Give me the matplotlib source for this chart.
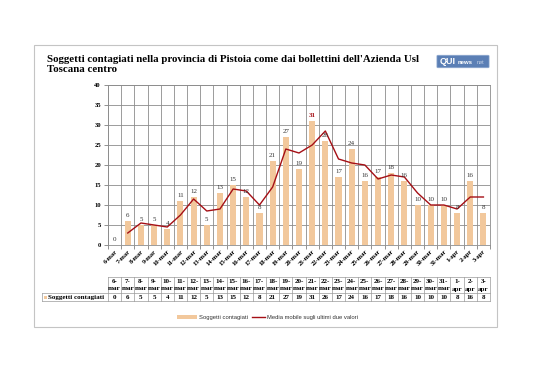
import matplotlib
matplotlib.use("Agg")
import matplotlib.pyplot as plt
import numpy as np
from matplotlib.patches import Rectangle, FancyBboxPatch
from matplotlib.lines import Line2D
import matplotlib.transforms as mtransforms

dates = ["6-mar", "7-mar", "8-mar", "9-mar", "10-mar", "11-mar", "12-mar", "13-mar",
         "14-mar", "15-mar", "16-mar", "17-mar", "18-mar", "19-mar", "20-mar", "21-mar",
         "22-mar", "23-mar", "24-mar", "25-mar", "26-mar", "27-mar", "28-mar", "29-mar",
         "30-mar", "31-mar", "1-apr", "2-apr", "3-apr"]
cases = [0, 6, 5, 5, 4, 11, 12, 5, 13, 15, 12, 8, 21, 27, 19, 31, 26, 17, 24, 16,
         17, 18, 16, 10, 10, 10, 8, 16, 8]
moving_avg = [np.nan, 3, 5.5, 5, 4.5, 7.5, 11.5, 8.5, 9, 14, 13.5, 10, 14.5, 24, 23,
              25, 28.5, 21.5, 20.5, 20, 16.5, 17.5, 17, 13, 10, 10, 9, 12, 12]

title = "Soggetti contagiati nella provincia di Pistoia come dai bollettini dell'Azienda Usl\nToscana centro"
bar_name = "Soggetti contagiati"
line_name = "Media mobile sugli ultimi due valori"

W, H = 538, 380
fig = plt.figure(figsize=(W / 100, H / 100), dpi=100)
fig.patch.set_facecolor("white")

def fx(px):
    return px / W

def fy(py):
    return 1 - py / H

SERIF = ["Liberation Serif", "DejaVu Serif"]
SANS = ["Liberation Sans", "DejaVu Sans"]
BAR_C = "#F2C89C"
LINE_C = "#A50F15"

# outer frame
fig.patches.append(Rectangle((fx(34), fy(327)), fx(497) - fx(34), fy(45) - fy(327),
                             transform=fig.transFigure, fill=False, edgecolor="#c4c4c4",
                             linewidth=0.8))

# title
fig.text(fx(47), fy(55), title, ha="left", va="top", fontsize=7.8, fontweight="bold",
         family=SERIF, linespacing=1.1)

# logo
fig.patches.append(FancyBboxPatch((fx(438), fy(67)), fx(50), fy(56) - fy(67),
                                  boxstyle="round,pad=0.002", transform=fig.transFigure,
                                  facecolor="#5b7fb5", edgecolor="#8ea8cf", linewidth=0.5))
fig.text(fx(440), fy(61.5), "QUI", color="white", fontsize=6.5, fontweight="bold",
         family=SANS, va="center", ha="left")
fig.text(fx(458), fy(62), "news", color="white", fontsize=4.3, fontweight="bold",
         family=SANS, va="center", ha="left")
fig.text(fx(477), fy(62), "net", color="#c9d6ea", fontsize=4, family=SANS,
         va="center", ha="left")

ax = fig.add_axes([fx(108), fy(245), fx(490) - fx(108), fy(85) - fy(245)])
n = len(dates)
x = np.arange(n)
ax.bar(x, cases, width=0.46, color=BAR_C, zorder=2)
ax.plot(x, moving_avg, color=LINE_C, linewidth=1.0, zorder=3)

ax.set_xlim(-0.5, n - 0.5)
ax.set_ylim(0, 40)
ax.set_yticks(range(0, 41, 5))
ax.set_yticklabels([str(v) for v in range(0, 41, 5)], fontsize=4.8, fontweight="bold",
                   family=SERIF)
ax.tick_params(axis="y", length=3, width=0.6, color="#808080", pad=2)
ax.set_xticks(x)
ax.set_xticklabels(dates, rotation=45, ha="right", rotation_mode="anchor", fontsize=4.7,
                   fontweight="bold", family=SERIF)
ax.tick_params(axis="x", length=0, pad=3)
ax.set_xticks(np.arange(-0.5, n, 1), minor=True)
ax.tick_params(axis="x", which="minor", length=3, width=0.6, color="#808080")

for v in np.arange(-0.5, n, 1):
    ax.axvline(v, color="#8c8c8c", linewidth=0.6, zorder=1)
for v in range(5, 41, 5):
    ax.axhline(v, color="#8c8c8c", linewidth=0.6, zorder=1)
for s in ax.spines.values():
    s.set_color("#8c8c8c")
    s.set_linewidth(0.6)

for xi, v in zip(x, cases):
    red = v == max(cases)
    ax.annotate(str(v), (xi, v), xytext=(0, 2.5), textcoords="offset points",
                ha="center", va="bottom", fontsize=5.0, family=SERIF,
                color=LINE_C if red else "#333333",
                fontweight="bold" if red else "normal", zorder=4)

# data table
tr = mtransforms.blended_transform_factory(ax.transData, fig.transFigure)
tc = "#9a9a9a"
y_top, y_mid, y_bot = fy(277), fy(293), fy(301)
for v in np.arange(-0.5, n, 1):
    fig.add_artist(Line2D([v, v], [y_top, y_bot], transform=tr, color=tc, linewidth=0.5))
fig.add_artist(Line2D([-0.5, n - 0.5], [y_top, y_top], transform=tr, color=tc, linewidth=0.5))
fig.add_artist(Line2D([fx(42), fx(490)], [y_mid, y_mid], transform=fig.transFigure,
                      color=tc, linewidth=0.5))
fig.add_artist(Line2D([fx(42), fx(490)], [y_bot, y_bot], transform=fig.transFigure,
                      color=tc, linewidth=0.5))
fig.add_artist(Line2D([fx(42), fx(42)], [y_mid, y_bot], transform=fig.transFigure,
                      color=tc, linewidth=0.5))
for xi, d, v in zip(x, dates, cases):
    day, mon = d.split("-")
    fig.text(xi, fy(281.5), day + "-", transform=tr, ha="center", va="center",
             fontsize=5.0, fontweight="bold", family=SERIF)
    fig.text(xi, fy(289), mon, transform=tr, ha="center", va="center",
             fontsize=5.0, fontweight="bold", family=SERIF)
    fig.text(xi, fy(297.3), str(v), transform=tr, ha="center", va="center",
             fontsize=5.0, fontweight="bold", family=SERIF)
fig.patches.append(Rectangle((fx(44), fy(299)), fx(3), fy(296) - fy(299),
                             transform=fig.transFigure, facecolor=BAR_C, edgecolor="none"))
fig.text(fx(48.5), fy(297.3), bar_name, ha="left", va="center", fontsize=5.1,
         fontweight="bold", family=SERIF)

# legend
fig.patches.append(Rectangle((fx(177), fy(319)), fx(20), fy(315) - fy(319),
                             transform=fig.transFigure, facecolor=BAR_C, edgecolor="none"))
fig.text(fx(199), fy(317.3), bar_name, ha="left", va="center", fontsize=4.2, family=SANS,
         color="#333333")
fig.add_artist(Line2D([fx(252), fx(265)], [fy(317), fy(317)], transform=fig.transFigure,
                      color=LINE_C, linewidth=1.0))
fig.text(fx(267), fy(317.3), line_name, ha="left", va="center", fontsize=4.2, family=SANS,
         color="#333333")

fig.savefig("out.png", dpi=100, facecolor="white")
